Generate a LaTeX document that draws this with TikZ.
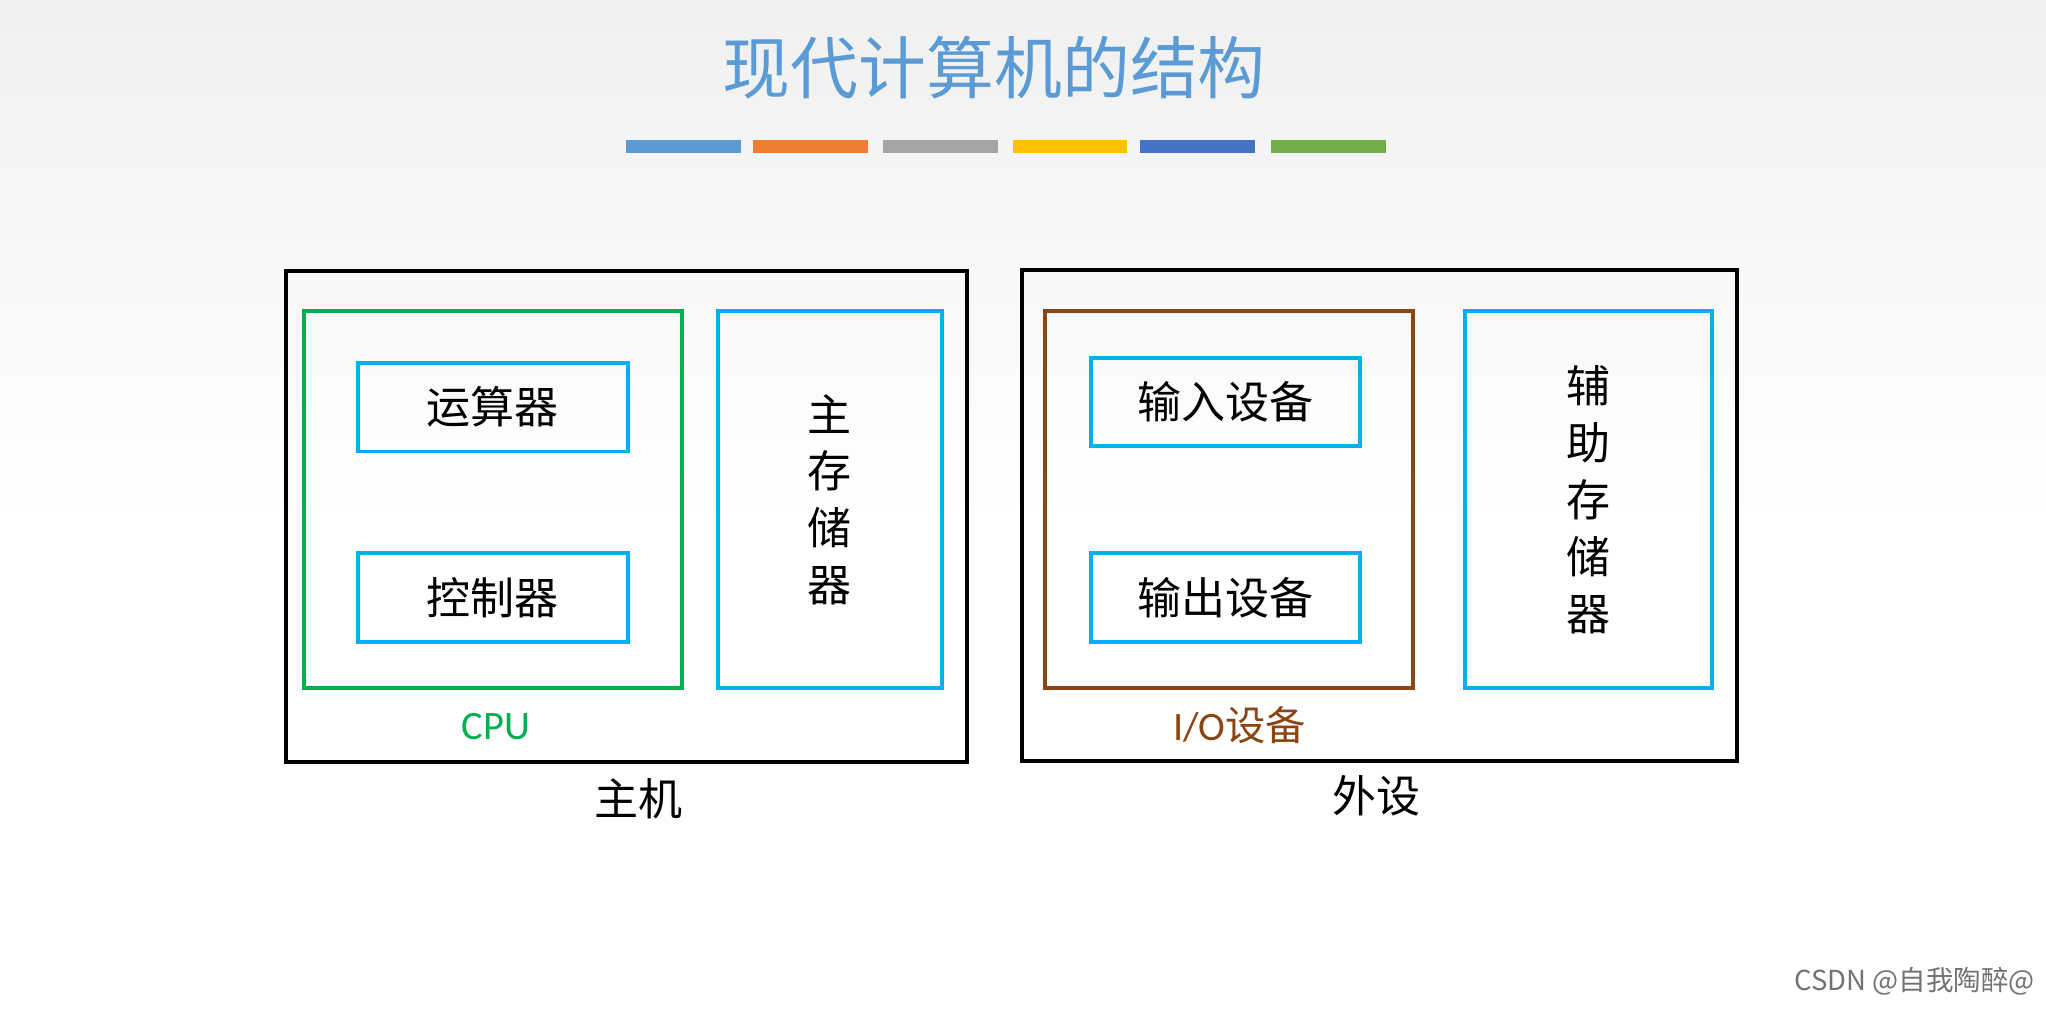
\documentclass[tikz,border=0pt]{standalone}
\usepackage{fontspec}
\setmainfont{Carlito}
\newfontfamily\cjk{Noto Sans CJK SC}
\begin{document}
\begin{tikzpicture}[x=0.05cm,y=-0.05cm,
  lw/.style={line width=4.3pt},
  lbl/.style={font=\cjk\fontsize{48}{56}\selectfont},
  vlbl/.style={font=\cjk\fontsize{48}{62}\selectfont, align=center},
  bar/.style={line width=0.5cm}]
\definecolor{cy}{RGB}{0,176,240}
\definecolor{gr}{RGB}{0,176,80}
\definecolor{br}{RGB}{139,69,19}
\definecolor{tb}{RGB}{91,155,213}
\shade[top color=black!6, bottom color=white] (0,0) rectangle (1568,400);
\fill[white] (0,400) rectangle (1568,781);
\useasboundingbox (0,0) rectangle (1568,781);
\node[font=\cjk\fontsize{74}{80}\selectfont, text=tb] (title) at (762,52) {现代计算机的结构};
\foreach \a/\c in {480/5B9BD5,577/ED7D31,677/A5A5A5,776/FFC000,874/4472C4,974/70AD47}{
  \definecolor{bc}{HTML}{\c}
  \fill[bc] (\a,107) rectangle ++(88,10);}
% host
\draw[lw] (219,208) rectangle (741,584);
\draw[lw,gr] (233,238) rectangle (523,527);
\draw[lw,cy] (274,278) rectangle (481,346);
\node[lbl] (alu) at (377.5,312) {运算器};
\draw[lw,cy] (274,424) rectangle (481,492);
\node[lbl] (cu) at (377.5,458) {控制器};
\draw[lw,cy] (550,238) rectangle (722,527);
\node[vlbl] (mem) at (636,383) {主\\存\\储\\器};
\node[font=\fontsize{44}{50}\selectfont, text=gr] (cpu) at (380,557) {CPU};
\node[lbl] (host) at (489,612) {主机};
% peripherals
\draw[lw] (783,207) rectangle (1331,583);
\draw[lw,br] (801,238) rectangle (1083,527);
\draw[lw,cy] (836,274) rectangle (1042,342);
\node[lbl] (in) at (939,308) {输入设备};
\draw[lw,cy] (836,424) rectangle (1042,492);
\node[lbl] (out) at (939,458) {输出设备};
\draw[lw,cy] (1123,238) rectangle (1312,527);
\node[vlbl] (aux) at (1217,383) {辅\\助\\存\\储\\器};
\node[text=br] (io) at (950,556) {\fontsize{44}{50}\selectfont I/O\cjk 设备};
\node[lbl] (per) at (1055,610) {外设};
\node[font=\cjk\fontsize{30}{36}\selectfont, text=black!55, anchor=east] (csdn) at (1562,752) {CSDN @自我陶醉@};
\end{tikzpicture}
\end{document}
